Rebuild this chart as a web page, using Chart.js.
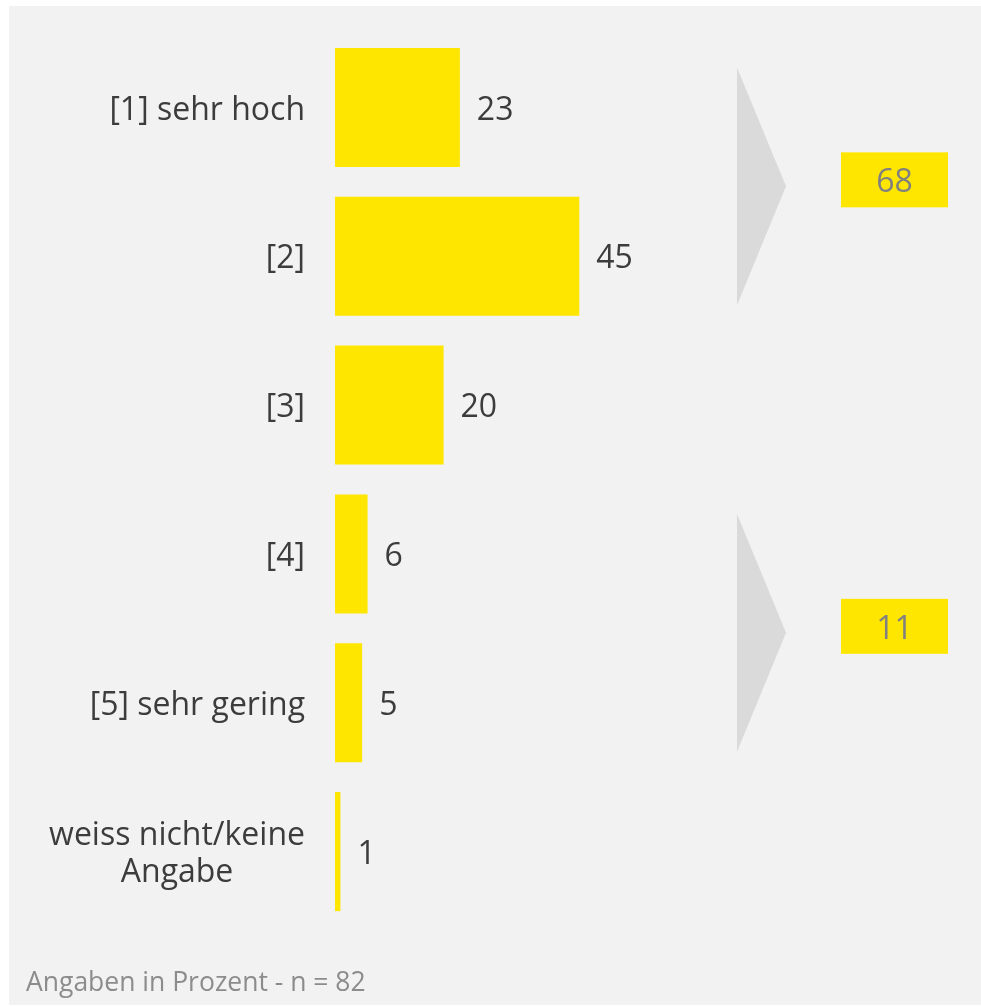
<!DOCTYPE html>
<html>
<head>
<meta charset="utf-8">
<script src="https://cdn.jsdelivr.net/npm/chart.js@4/dist/chart.umd.min.js"></script>
<style>
  html, body { margin: 0; padding: 0; background: #fff; }
  #wrap { width: 981px; height: 1006px; }
</style>
</head>
<body>
<div id="wrap"><canvas id="barChart" width="981" height="1006"></canvas></div>
<script>
const labels = [
  ['[1] sehr hoch'],
  ['[2]'],
  ['[3]'],
  ['[4]'],
  ['[5] sehr gering'],
  ['weiss nicht/keine', 'Angabe']
]
const werte = [23, 45, 20, 6, 5, 1]
// Zusammenfassungen: Index von/bis der Kategorien
const gruppen = [[0, 1], [3, 4]]
const fussnote = 'Angaben in Prozent - n = 82'

const GELB = '#ffe600'
const TEXT = '#3c3c3c'
const FONT = '"Open Sans", sans-serif'

const dekoration = {
  id: 'dekoration',
  beforeDraw (chart) {
    const ctx = chart.ctx
    ctx.save()
    ctx.fillStyle = '#ffffff'
    ctx.fillRect(0, 0, chart.width, chart.height)
    ctx.fillStyle = '#f2f2f2'
    ctx.fillRect(9, 6, chart.width - 9, chart.height - 7)
    ctx.restore()
  },
  afterDatasetsDraw (chart) {
    const ctx = chart.ctx
    const y = chart.scales.y
    const meta = chart.getDatasetMeta(0)
    ctx.save()

    // Kategorien links, rechtsbündig, mehrzeilig zentriert
    ctx.font = '32px ' + FONT
    ctx.fillStyle = TEXT
    ctx.textBaseline = 'middle'
    labels.forEach((zeilen, i) => {
      const cy = y.getPixelForValue(i) + 3
      const breite = Math.max(...zeilen.map(z => ctx.measureText(z).width))
      const rechts = chart.chartArea.left - 30
      const lh = 37
      zeilen.forEach((z, j) => {
        const ty = cy + (j - (zeilen.length - 1) / 2) * lh
        if (zeilen.length > 1) {
          ctx.textAlign = 'center'
          ctx.fillText(z, rechts - breite / 2, ty)
        } else {
          ctx.textAlign = 'right'
          ctx.fillText(z, rechts, ty)
        }
      })
    })

    // Werte rechts neben den Balken
    ctx.textAlign = 'left'
    meta.data.forEach((bar, i) => {
      ctx.fillText(String(werte[i]), bar.x + 17, bar.y + 3)
    })

    // Pfeile und Summenfelder
    gruppen.forEach(([a, b]) => {
      const oben = y.getPixelForValue(a) - 40
      const unten = y.getPixelForValue(b) + 49
      const mitte = (oben + unten) / 2
      const px = 737
      ctx.fillStyle = '#dadada'
      ctx.beginPath()
      ctx.moveTo(px, oben)
      ctx.lineTo(px + 49, mitte)
      ctx.lineTo(px, unten)
      ctx.closePath()
      ctx.fill()

      let summe = 0
      for (let k = a; k <= b; k++) summe += werte[k]
      const bx = 841
      const by = mitte - 34
      ctx.fillStyle = GELB
      ctx.fillRect(bx, by, 107, 55)
      ctx.fillStyle = '#808080'
      ctx.textAlign = 'center'
      ctx.font = '32px ' + FONT
      ctx.fillText(String(summe), bx + 53.5, by + 31)
    })

    // Fußnote
    ctx.font = '26.5px ' + FONT
    ctx.fillStyle = '#8c8c8c'
    ctx.textAlign = 'left'
    ctx.textBaseline = 'alphabetic'
    ctx.fillText(fussnote, 26, 991)

    ctx.restore()
  }
}

new Chart(document.getElementById('barChart'), {
  type: 'bar',
  data: {
    labels: labels,
    datasets: [
      {
        data: werte,
        backgroundColor: GELB,
        borderWidth: 0,
        barPercentage: 1,
        categoryPercentage: 0.8
      }
    ]
  },
  options: {
    indexAxis: 'y',
    responsive: false,
    animation: false,
    layout: {
      padding: { left: 335, right: 266, top: 33, bottom: 80 }
    },
    plugins: {
      legend: { display: false },
      tooltip: { enabled: false }
    },
    scales: {
      x: { display: false, min: 0, max: 70 },
      y: { display: false }
    }
  },
  plugins: [dekoration]
})
</script>
</body>
</html>
